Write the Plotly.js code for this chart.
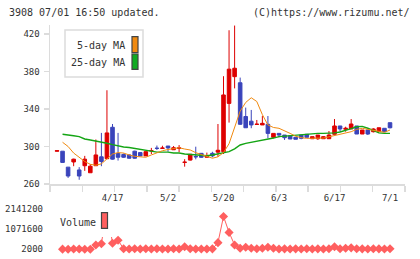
<!DOCTYPE html>
<html>
<head>
<meta charset="utf-8">
<script src="https://cdn.plot.ly/plotly-3.0.1.min.js"></script>
<style>html,body{margin:0;padding:0;background:#fff;}#chart{width:420px;height:259px;}</style>
</head>
<body>
<div id="chart"></div>
<script>
// ---- data ----
const dates = ["4/3","4/4","4/5","4/8","4/9","4/10","4/11","4/12","4/15","4/16",
  "4/17","4/18","4/19","4/22","4/23","4/24","4/25","4/26","4/30","5/1",
  "5/2","5/7","5/8","5/9","5/10","5/13","5/14","5/15","5/16","5/17",
  "5/20","5/21","5/22","5/23","5/24","5/27","5/28","5/29","5/30","5/31",
  "6/3","6/4","6/5","6/6","6/7","6/10","6/11","6/12","6/13","6/14",
  "6/17","6/18","6/19","6/20","6/21","6/24","6/25","6/26","6/27","6/28","7/1"];
const openP  = [295,295,278,283.5,275,279.5,272,279.5,289,287,
  320.5,292.5,291.5,291,295,293.5,290,295.3,298.2,298,
  300.5,296.5,298.2,283,285.5,289.3,292.7,288.5,292.7,294,
  294.5,346,374.5,368,332,327,323.5,323,323.7,309.8,
  314,312.2,311.5,309.8,312.2,313,308.3,308.3,308.3,308.3,
  313,321.9,318.4,318.7,321.9,313.3,317.6,315.8,315.8,319.4,325.4];
const highP  = [295.5,295,278,287,278,290,281,307.5,314.5,360,
  324,314.5,292.5,291.5,295.5,294,294.5,298.5,301,300.8,
  300.5,300.5,301.5,286.5,291.7,299.8,293,293.5,294.4,324,
  375,424,429,373.5,341.5,339,328.3,332.5,332.5,314,
  314,312.2,311.5,309.8,312.2,313,310.5,312.2,311,316.5,
  329.3,321.9,321.1,329.3,321.9,317.6,317.6,319.5,320,319.4,325.4];
const lowP   = [295,283,266.5,279,264.5,274,272,279.5,279,286.5,
  286,285,288,287,287,289.5,290,292,296.3,298,
  294.5,296.3,294,278.5,285,286.3,288,288.5,288.5,289,
  292,325.5,362,323,320,319.5,323.5,323,308.7,308.7,
  309.8,307,308,307.7,307.7,309.8,308.3,307,308.3,308.3,
  313,315.8,315.8,318.7,313.3,313.3,312.3,315,315.8,315.8,319.3];
const closeP = [295.5,283,268.5,286.5,268.5,286.5,279,291,284,314.5,
  286.5,288.5,288.5,287.5,287.5,290,294.5,295.6,298,298.3,
  298.5,298.7,298.5,283.3,291.7,289,288.5,290.2,290,296,
  355,382.5,383.5,323.7,320,323,323.8,324.7,314,314,
  312.2,309.4,308,307.7,308.7,309.8,310.5,312.2,310.5,312.2,
  321.9,318.7,319.4,324,313.3,317.6,313.3,318.7,320,315.8,320];
const ma5 = [null,304.5,300,293,288,284,281,280,281.5,287,
  292,293.5,293,291,289.5,289,288.5,291,293.5,295.5,
  296.8,298,298.7,297.3,296.3,293.4,291.7,290,287.5,289,
  293.5,303,321,337.7,347,352,348,334,323,320.3,
  319.4,317,314,311,309.4,308.7,308.7,308.7,309,310.3,
  311.5,313,314,315.8,318.3,319.4,318.3,317,315.8,315.1,317.6];
const ma25 = [null,313,312.5,311.5,310.5,308,307,306,305,303.5,
  302,300.5,299.5,299,298,297.5,296.5,295.5,294,294,
  294,293,293,292,291.5,290.5,290.2,290.2,291,292,
  293,294.5,297.5,301.6,303.4,304.5,305.1,306,307.5,309,
  310.5,311,311.5,312,313,313,313.5,314,314,314,
  314.5,315.5,317,319,321,321.5,319.5,317,314.5,314,314];
const volume = [null,10000,8000,15000,15000,8000,8000,232000,300000,2200000,
  323000,483000,30000,20000,30000,20000,30000,20000,30000,20000,
  20000,30000,20000,141000,30000,20000,20000,20000,25000,355000,
  1746000,900000,232000,55000,109000,55000,30000,55000,109000,55000,
  20000,25000,20000,25000,20000,30000,20000,25000,20000,30000,
  141000,30000,55000,80000,30000,25000,20000,30000,25000,20000,30000];
const dateTickIdx = [10,20,30,40,50,60];
const priceTicks = [260,300,340,380,420];
const volTicks = [2000,1071600,2141200];
const volTickText = ["2000","1071600","2141200"];

// ---- layout helpers ----
const W = 420, H = 259;
const px = x => x / W;
const py = y => 1 - y / H;
const idx = dates.map((d, i) => i);
const xr = [-1.261, 62.70];
const minorTicks = [];
for (let k = 0; k <= 11; k++) minorTicks.push(xr[0] + k * (xr[1] - xr[0]) / 11);

const FONT = "DejaVu Sans Mono, Liberation Mono, monospace";
const RED = "#dd0000", BLUE = "#3a44bb", ORANGE = "#f08a10", GREEN = "#14a514", VOL = "#ff5f5f";

const traces = [
  {type: "candlestick", x: idx, open: openP, high: highP, low: lowP, close: closeP,
   xaxis: "x", yaxis: "y", whiskerwidth: 0, hoverinfo: "skip",
   increasing: {line: {color: RED, width: 1}, fillcolor: RED},
   decreasing: {line: {color: BLUE, width: 1}, fillcolor: BLUE}},
  {type: "scatter", mode: "lines", x: idx, y: ma25, xaxis: "x", yaxis: "y",
   line: {color: GREEN, width: 1.4}, hoverinfo: "skip"},
  {type: "scatter", mode: "lines", x: idx, y: ma5, xaxis: "x", yaxis: "y",
   line: {color: ORANGE, width: 1}, hoverinfo: "skip"},
  {type: "scatter", mode: "lines+markers", x: idx, y: volume, xaxis: "x2", yaxis: "y2",
   line: {color: VOL, width: 1}, marker: {symbol: "diamond", size: 7, color: VOL},
   cliponaxis: false, hoverinfo: "skip"}
];

const layout = {
  width: W, height: H, margin: {l: 0, r: 0, t: 0, b: 0},
  paper_bgcolor: "#fff", plot_bgcolor: "#fff", showlegend: false,
  boxgap: 0.08,
  xaxis: {domain: [px(50), px(405)], range: xr, anchor: "y",
    tickmode: "array", tickvals: dateTickIdx, ticktext: dateTickIdx.map(i => dates[i]),
    ticks: "", showline: true, linecolor: "#dcdcdc", linewidth: 2,
    showgrid: false, zeroline: false, fixedrange: true,
    rangeslider: {visible: false}, ticklabelstandoff: 4,
    tickfont: {family: FONT, size: 9, color: "#333"},
    minor: {tickmode: "array", tickvals: minorTicks, ticks: "outside", ticklen: 6,
      tickcolor: "#dcdcdc", tickwidth: 1.5, showgrid: false}},
  yaxis: {domain: [py(184), py(25)], range: [260, 429.6], anchor: "x",
    tickmode: "array", tickvals: priceTicks, ticks: "outside", ticklen: 5,
    tickcolor: "#dcdcdc", tickwidth: 1.5, showline: true, linecolor: "#dcdcdc", linewidth: 1.5,
    showgrid: false, zeroline: false, fixedrange: true, ticklabelstandoff: 2,
    tickfont: {family: FONT, size: 9, color: "#333"}},
  xaxis2: {domain: [px(50), px(405)], range: xr, anchor: "y2", visible: false},
  yaxis2: {domain: [py(249.3), py(209)], range: [2000, 2141200], anchor: "x2",
    tickmode: "array", tickvals: volTicks, ticktext: volTickText, ticks: "",
    showline: false, showgrid: false, zeroline: false, ticklabelstandoff: 6,
    tickfont: {family: FONT, size: 9, color: "#333"}},
  shapes: [
    {type: "rect", xref: "paper", yref: "paper", x0: px(50), x1: px(115), y0: py(237), y1: py(203),
     fillcolor: "#fff", line: {width: 0}, layer: "above"},
    {type: "rect", xref: "paper", yref: "paper", x0: px(65), x1: px(143), y0: py(77), y1: py(30),
     fillcolor: "#fff", line: {color: "#dcdcdc", width: 1.5}, layer: "above"},
    {type: "rect", xref: "paper", yref: "paper", x0: px(132), x1: px(138), y0: py(52.7), y1: py(36.7),
     fillcolor: ORANGE, line: {color: "#444", width: 1.2}, layer: "above"},
    {type: "rect", xref: "paper", yref: "paper", x0: px(132), x1: px(138), y0: py(69.3), y1: py(54),
     fillcolor: "#11aa22", line: {color: "#444", width: 1.2}, layer: "above"},
    {type: "rect", xref: "paper", yref: "paper", x0: px(101.5), x1: px(107.5), y0: py(228.3), y1: py(212.7),
     fillcolor: VOL, line: {color: "#444", width: 1.2}, layer: "above"}
  ],
  annotations: [
    {text: "3908 07/01 16:50 updated.", xref: "paper", yref: "paper", x: px(7), y: py(12),
     xanchor: "left", yanchor: "middle", showarrow: false, font: {family: FONT, size: 10, color: "#333"}},
    {text: "(C)https://www.rizumu.net/", xref: "paper", yref: "paper", x: px(412), y: py(12),
     xanchor: "right", yanchor: "middle", showarrow: false, font: {family: FONT, size: 10, color: "#333"}},
    {text: "5-day MA", xref: "paper", yref: "paper", x: px(127), y: py(46),
     xanchor: "right", yanchor: "middle", showarrow: false, font: {family: FONT, size: 10, color: "#333"}},
    {text: "25-day MA", xref: "paper", yref: "paper", x: px(127), y: py(62.7),
     xanchor: "right", yanchor: "middle", showarrow: false, font: {family: FONT, size: 10, color: "#333"}},
    {text: "Volume", xref: "paper", yref: "paper", x: px(57.5), y: py(222.7),
     xanchor: "left", yanchor: "middle", showarrow: false, font: {family: FONT, size: 10, color: "#333"}}
  ]
};

Plotly.newPlot("chart", traces, layout, {staticPlot: true, displayModeBar: false});
</script>
</body>
</html>
